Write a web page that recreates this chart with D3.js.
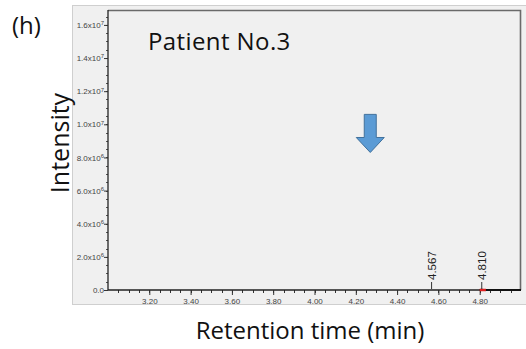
<!DOCTYPE html>
<html>
<head>
<meta charset="utf-8">
<script src="https://cdn.jsdelivr.net/npm/d3@7"></script>
<style>
  html, body { margin: 0; padding: 0; background: #fff; }
  svg { display: block; }
</style>
</head>
<body>
<div id="chart"></div>
<script>
// chromatogram values
var xTicks = [3.2, 3.4, 3.6, 3.8, 4.0, 4.2, 4.4, 4.6, 4.8];
var yTicks = [0, 2e6, 4e6, 6e6, 8e6, 1e7, 1.2e7, 1.4e7, 1.6e7];
var traceTime = [4.80, 4.81, 4.82, 4.85, 4.90, 4.95, 5.00];
var traceValue = [0, 15000, 0, 0, 0, 0, 0];
var peakTimes = [4.567, 4.810];
var peakLabels = ['4.567', '4.810'];
var arrowTime = 4.27;
var arrowValue = [1.06e7, 8.3e6];

var W = 526, H = 349;
var margin = {top: 10, right: 5, bottom: 59, left: 108};
var width = W - margin.left - margin.right,
    height = H - margin.top - margin.bottom;

var svg = d3.select('#chart').append('svg')
            .attr('width', W)
            .attr('height', H);

// grey panel behind the plot
svg.append('rect')
    .attr('x', 72.5).attr('y', 5.5)
    .attr('width', 460).attr('height', 299)
    .attr('fill', '#f0f0f0')
    .attr('stroke', '#cfcfcf');

var chart = svg.append('g')
            .attr('transform', 'translate(' + margin.left + ',' + margin.top + ')');

// scales
var xScale = d3.scaleLinear().domain([3.0, 5.0]).range([0, width]);
var yScale = d3.scaleLinear().domain([0, 1.69e7]).range([height, 0]);

// top / right frame
chart.append('path')
    .attr('d', 'M0,0.5H' + (width - 0.5) + 'V' + height)
    .attr('fill', 'none')
    .attr('stroke', '#6a6a6a')
    .attr('stroke-width', 1.6);

// minor ticks
var minorX = d3.range(3.05, 5.0, 0.05);
chart.selectAll('.mx').data(minorX).enter().append('line')
    .attr('x1', function(d) { return Math.round(xScale(d)) + 0.5; })
    .attr('x2', function(d) { return Math.round(xScale(d)) + 0.5; })
    .attr('y1', height).attr('y2', height + 3)
    .attr('stroke', '#333');
var minorY = d3.range(5e5, 1.69e7, 5e5);
chart.selectAll('.my').data(minorY).enter().append('line')
    .attr('x1', -2).attr('x2', 0)
    .attr('y1', function(d) { return Math.round(yScale(d)) + 0.5; })
    .attr('y2', function(d) { return Math.round(yScale(d)) + 0.5; })
    .attr('stroke', '#555');

// axes
var xAxis = d3.axisBottom(xScale)
                .tickValues(xTicks)
                .tickSize(5)
                .tickPadding(3)
                .tickFormat(d3.format('.2f'));
var xG = chart.append('g').attr('transform', 'translate(0,' + height + ')').call(xAxis);
var yAxis = d3.axisLeft(yScale)
                .tickValues(yTicks)
                .tickSize(4)
                .tickPadding(1)
                .tickFormat('');
var yG = chart.append('g').call(yAxis);

[xG, yG].forEach(function(g) {
    g.select('.domain').attr('stroke', '#222').attr('stroke-width', 1.3);
    g.selectAll('.tick line').attr('stroke', '#333');
    g.selectAll('text')
        .attr('font-family', 'Liberation Sans, Arial, sans-serif')
        .attr('font-size', 8)
        .attr('fill', '#444');
});
xG.select('.domain').attr('d', 'M0,0H' + width);
yG.select('.domain').attr('d', 'M0,0V' + height);

// y tick labels like 2.0x10^6
yG.selectAll('.tick').each(function(d) {
    var t = d3.select(this).append('text')
        .attr('x', -4).attr('dy', '0.32em')
        .attr('text-anchor', 'end')
        .attr('font-family', 'Liberation Sans Narrow, Liberation Sans, Arial, sans-serif')
        .attr('font-size', 8)
        .attr('fill', '#444');
    if (d === 0) { t.text('0.0'); return; }
    var e = Math.floor(Math.log10(d));
    t.append('tspan').text((d / Math.pow(10, e)).toFixed(1) + 'x10');
    t.append('tspan').attr('dy', '-0.45em').attr('font-size', 6).text(e);
});

// trace
var line = d3.line()
                .x(function(d, i) { return xScale(traceTime[i]); })
                .y(function(d) { return yScale(d); });
chart.append('path')
    .attr('d', line(traceValue))
    .attr('fill', 'none')
    .attr('stroke', '#111')
    .attr('stroke-width', 2.2);
chart.append('line')
    .attr('x1', xScale(4.80)).attr('x2', xScale(4.83))
    .attr('y1', height).attr('y2', height)
    .attr('stroke', '#e02020')
    .attr('stroke-width', 2.5);

// peak labels
var peaks = chart.selectAll('.peak').data(peakTimes).enter().append('g')
    .attr('transform', function(d) { return 'translate(' + xScale(d) + ',' + height + ')'; });
peaks.append('line')
    .attr('y1', -1).attr('y2', -8)
    .attr('stroke', '#333');
peaks.append('text')
    .attr('transform', 'translate(4,-10) rotate(-90)')
    .attr('font-family', 'Liberation Sans, Arial, sans-serif')
    .attr('font-size', 11.5)
    .attr('fill', '#222')
    .text(function(d, i) { return peakLabels[i]; });

// blue arrow
var ax = xScale(arrowTime), y0 = yScale(arrowValue[0]), y1 = yScale(arrowValue[1]);
chart.append('path')
    .attr('d', 'M' + (ax - 6) + ',' + y0 + 'H' + (ax + 6) + 'V' + (y1 - 15) +
               'H' + (ax + 14) + 'L' + ax + ',' + y1 + 'L' + (ax - 14) + ',' + (y1 - 15) +
               'H' + (ax - 6) + 'Z')
    .attr('fill', '#5b9bd5')
    .attr('stroke', '#41719c')
    .attr('stroke-width', 1);

// texts
var font = 'Open Sans, Lato, sans-serif';
svg.append('text')
    .attr('x', 148).attr('y', 50)
    .attr('font-family', font).attr('font-size', 24)
    .attr('letter-spacing', 0.4)
    .attr('fill', '#111')
    .text('Patient No.3');
svg.append('text')
    .attr('x', 12).attr('y', 34)
    .attr('font-family', font).attr('font-size', 24)
    .attr('fill', '#111')
    .text('(h)');
svg.append('text')
    .attr('transform', 'translate(69,143) rotate(-90)')
    .attr('text-anchor', 'middle')
    .attr('font-family', font).attr('font-size', 25)
    .attr('fill', '#111')
    .text('Intensity');
svg.append('text')
    .attr('x', 310).attr('y', 339)
    .attr('text-anchor', 'middle')
    .attr('font-family', font).attr('font-size', 24)
    .attr('fill', '#111')
    .text('Retention time (min)');
</script>
</body>
</html>
